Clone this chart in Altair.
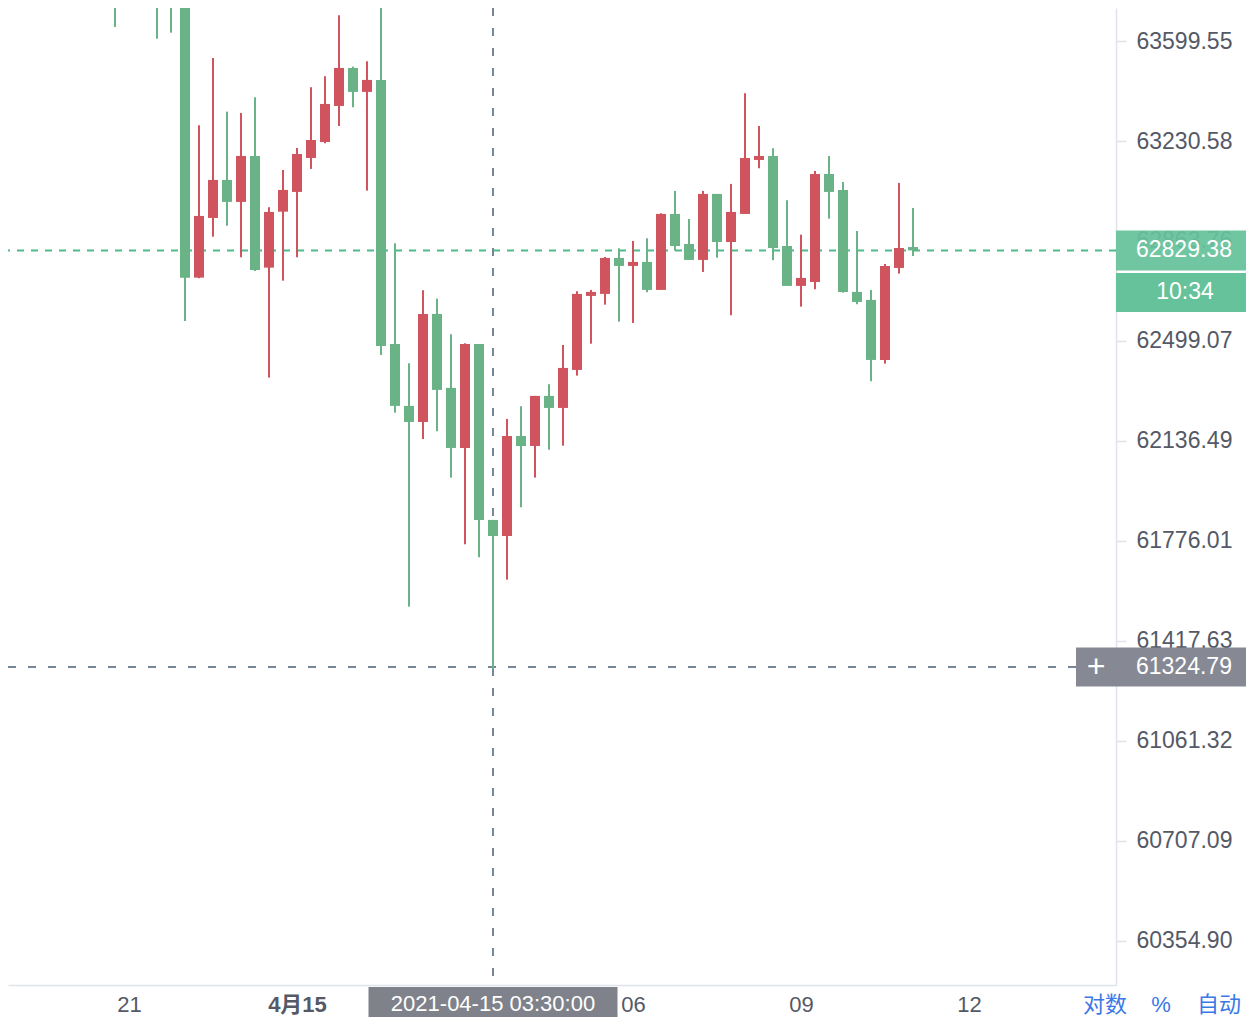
import altair as alt
import pandas as pd

# ---------------- data ----------------
times = [
    "2021-04-14 20:45", "2021-04-14 21:30", "2021-04-14 21:45", "2021-04-14 22:00",
    "2021-04-14 22:15", "2021-04-14 22:30", "2021-04-14 22:45", "2021-04-14 23:00",
    "2021-04-14 23:15", "2021-04-14 23:30", "2021-04-14 23:45",
    "2021-04-15 00:00", "2021-04-15 00:15", "2021-04-15 00:30", "2021-04-15 00:45",
    "2021-04-15 01:00", "2021-04-15 01:15", "2021-04-15 01:30", "2021-04-15 01:45",
    "2021-04-15 02:00", "2021-04-15 02:15", "2021-04-15 02:30", "2021-04-15 02:45",
    "2021-04-15 03:00", "2021-04-15 03:15", "2021-04-15 03:30", "2021-04-15 03:45",
    "2021-04-15 04:00", "2021-04-15 04:15", "2021-04-15 04:30", "2021-04-15 04:45",
    "2021-04-15 05:00", "2021-04-15 05:15", "2021-04-15 05:30", "2021-04-15 05:45",
    "2021-04-15 06:00", "2021-04-15 06:15", "2021-04-15 06:30", "2021-04-15 06:45",
    "2021-04-15 07:00", "2021-04-15 07:15", "2021-04-15 07:30", "2021-04-15 07:45",
    "2021-04-15 08:00", "2021-04-15 08:15", "2021-04-15 08:30", "2021-04-15 08:45",
    "2021-04-15 09:00", "2021-04-15 09:15", "2021-04-15 09:30", "2021-04-15 09:45",
    "2021-04-15 10:00", "2021-04-15 10:15", "2021-04-15 10:30", "2021-04-15 10:45",
    "2021-04-15 11:00",
]
opens = [63863.0, 63863.0, 63844.5, 63781.4, 62729.9, 62948.1, 63087.5, 63006.8, 63175.6, 62766.4, 62971.2,
         63043.5, 63168.2, 63226.9, 63359.7, 63499.9, 63411.4, 63455.7, 62488.2, 62263.4, 62205.4, 62597.5,
         62328.7, 62111.3, 62488.2, 61851.7, 61794.0, 62154.6, 62118.5, 62299.7, 62256.1, 62393.9, 62663.2,
         62670.5, 62801.8, 62772.6, 62787.2, 62685.1, 62962.8, 62852.8, 62794.5, 63036.2, 62860.1, 62962.8,
         63160.9, 63175.6, 62845.5, 62699.7, 62714.2, 63109.5, 63050.8, 62677.8, 62648.6, 62430.2, 62765.3,
         62841.9]
highs = [63900.2, 63900.2, 63881.6, 63825.9, 63288.5, 63536.8, 63338.7, 63333.9, 63391.8, 62987.4, 63124.2,
         63204.9, 63428.7, 63469.3, 63694.9, 63504.7, 63524.6, 63807.4, 62855.4, 62418.2, 62684.0, 62653.3,
         62523.5, 62490.7, 62488.2, 61851.7, 62216.3, 62262.3, 62299.7, 62342.1, 62484.6, 62680.3, 62685.1,
         62805.4, 62837.1, 62863.8, 62873.7, 62965.4, 63047.2, 62944.5, 63047.2, 63036.2, 63072.9, 63406.6,
         63285.9, 63203.8, 63013.1, 62886.9, 63120.5, 63175.6, 63080.2, 62900.4, 62685.1, 62779.9, 63076.5,
         62984.8]
lows = [63651.5, 63608.1, 63630.4, 62572.0, 62728.0, 62879.5, 62919.9, 62804.3, 62754.4, 62366.0, 62719.0,
        62804.3, 63127.9, 63222.1, 63285.9, 63354.9, 63048.3, 62448.3, 62239.1, 61540.6, 62143.7, 62171.7,
        62004.2, 61764.2, 61717.6, 61318.0, 61637.3, 61897.5, 62004.2, 62105.1, 62119.5, 62373.3, 62489.3,
        62631.5, 62569.5, 62564.7, 62676.7, 62685.1, 62828.4, 62794.5, 62750.7, 62802.9, 62592.8, 62962.8,
        63130.4, 62793.4, 62699.7, 62624.2, 62687.6, 62945.6, 62675.2, 62632.9, 62352.9, 62416.8, 62744.5,
        62809.0]
closes = [63788.8, 63770.3, 63781.4, 62729.9, 62955.5, 63087.5, 63006.8, 63175.6, 62758.0, 62970.1, 63050.8,
          63182.9, 63234.3, 63367.1, 63499.9, 63411.4, 63455.7, 62480.9, 62263.4, 62205.4, 62597.5, 62321.4,
          62111.3, 62488.2, 61851.7, 61794.0, 62154.6, 62118.5, 62299.7, 62256.1, 62401.2, 62670.5, 62677.8,
          62801.8, 62772.6, 62787.2, 62685.1, 62962.8, 62845.5, 62794.5, 63036.2, 62860.1, 62970.1, 63168.2,
          63175.6, 62838.2, 62699.7, 62728.8, 63109.5, 63043.5, 62677.8, 62641.3, 62430.2, 62772.6, 62838.2,
          62829.38]

ytick_values = [63599.55, 63230.58, 62863.76, 62499.07, 62136.49, 61776.01, 61417.63, 61061.32, 60707.09, 60354.90]
xtick_minutes = [-180, 0, 180, 360, 540, 720]
xtick_labels = ["21", "4月15", "03", "06", "09", "12"]

last_price = 62829.38
countdown = "10:34"
cross_label = "2021-04-15 03:30:00"
cross_price = 61324.79
buttons = ["对数", "%", "自动"]

# ---------------- frames ----------------
base_time = pd.Timestamp("2021-04-15 00:00")
df = pd.DataFrame({"t": times, "open": opens, "high": highs, "low": lows, "close": closes})
df["m"] = (pd.to_datetime(df["t"]) - base_time).dt.total_seconds() / 60.0

cross_m = (pd.Timestamp(cross_label) - base_time).total_seconds() / 60.0
cross_df = pd.DataFrame({"m": [cross_m], "label": [cross_label]})
last_df = pd.DataFrame({"p": [last_price], "label": [f"{last_price:.2f}"], "cd": [countdown]})
cp_df = pd.DataFrame({"p": [cross_price], "label": [f"{cross_price:.2f}"], "plus": ["+"]})

# ---------------- style ----------------
FONT = "Liberation Sans, Noto Sans CJK SC, sans-serif"
GREEN = "#69b386"
RED = "#cf545d"
GRID = "#e0e3eb"
TEXT = "#555966"
PLOT_W, PLOT_H = 1108, 977

xscale = alt.Scale(domain=[-309.64, 877.5], nice=False, zero=False, padding=0)
yscale = alt.Scale(type="log", domain=[60200.5, 63721.8], nice=False, zero=False, padding=0)

label_expr = "".join(f"datum.value == {v} ? '{t}' : " for v, t in zip(xtick_minutes, xtick_labels)) + "''"

xaxis = alt.Axis(
    orient="bottom", values=xtick_minutes, labelExpr=label_expr, title=None, grid=False,
    ticks=False, tickSize=0, domain=True, domainColor=GRID, domainWidth=1.5,
    labelFont=FONT, labelFontSize=22, labelColor=TEXT, labelPadding=9,
    labelFlush=False, labelOverlap=False, labelBound=False,
    labelFontWeight={"condition": {"test": "datum.value == 0", "value": "bold"}, "value": "normal"},
)
yaxis = alt.Axis(
    orient="right", values=ytick_values, format=".2f", title=None, grid=False,
    ticks=True, tickSize=10, tickColor=GRID, tickWidth=1.5,
    domain=True, domainColor=GRID, domainWidth=1.5,
    labelFont=FONT, labelFontSize=23, labelColor=TEXT, labelPadding=10,
    labelOverlap=False, labelFlush=False,
)


def X(f):
    return alt.X(f, scale=xscale, axis=xaxis)


def Y(f):
    return alt.Y(f, scale=yscale, axis=yaxis)


color = alt.condition("datum.close >= datum.open", alt.value(RED), alt.value(GREEN))

base = alt.Chart(df)
wicks = base.mark_rule(strokeWidth=2, clip=True).encode(x=X("m:Q"), y=Y("low:Q"), y2="high:Q", color=color)
bodies = base.mark_bar(size=10, clip=True).encode(x=X("m:Q"), y=Y("open:Q"), y2="close:Q", color=color)

price_line = alt.Chart(last_df).mark_rule(color="#4fb987", strokeWidth=2, strokeDash=[7, 7]).encode(y=Y("p:Q"))

cross_v = alt.Chart(cross_df).mark_rule(color="#758696", strokeWidth=2, strokeDash=[8, 12]).encode(x=X("m:Q"))
cross_h = alt.Chart(cp_df).mark_rule(color="#758696", strokeWidth=2, strokeDash=[8, 12]).encode(
    y=Y("p:Q"), x=alt.value(0), x2=alt.value(1068))

tag = alt.Chart(last_df).mark_bar(orient="horizontal", size=40, color="#66c29b", opacity=0.93).encode(
    y=Y("p:Q"), x=alt.value(PLOT_W), x2=alt.value(1238))
tag2 = alt.Chart(last_df).mark_bar(orient="horizontal", size=39, color="#66c29b", yOffset=42).encode(
    y=Y("p:Q"), x=alt.value(PLOT_W), x2=alt.value(1238))
tag_txt = alt.Chart(last_df).mark_text(color="white", fontSize=23, font=FONT, align="left", baseline="middle").encode(
    y=Y("p:Q"), x=alt.value(1128), text="label:N")
tag2_txt = alt.Chart(last_df).mark_text(color="white", fontSize=23, font=FONT, align="center", baseline="middle",
                                        dy=42).encode(y=Y("p:Q"), x=alt.value(1177), text="cd:N")

cp_box = alt.Chart(cp_df).mark_bar(orient="horizontal", size=39, color="#868993").encode(
    y=Y("p:Q"), x=alt.value(1068), x2=alt.value(1238))
cp_plus = alt.Chart(cp_df).mark_text(color="white", fontSize=32, font=FONT, align="center", baseline="middle",
                                     fontWeight=300).encode(y=Y("p:Q"), x=alt.value(1088), text="plus:N")
cp_txt = alt.Chart(cp_df).mark_text(color="white", fontSize=23, font=FONT, align="left", baseline="middle").encode(
    y=Y("p:Q"), x=alt.value(1128), text="label:N")

cx_box = alt.Chart(cross_df).mark_bar(orient="vertical", size=249, color="#7f828b").encode(
    x=X("m:Q"), y=alt.value(979), y2=alt.value(1009))
cx_txt = alt.Chart(cross_df).mark_text(color="white", fontSize=22, font=FONT, align="center", baseline="middle").encode(
    x=X("m:Q"), y=alt.value(996), text="label:N")

btn_df = pd.DataFrame({"b": buttons})
btn_layers = []
for i, px in enumerate([1097, 1153, 1211]):
    btn_layers.append(
        alt.Chart(btn_df).transform_filter(f"datum.b == '{buttons[i]}'").mark_text(
            color="#3a78e6", fontSize=22, font=FONT, align="center", baseline="middle"
        ).encode(x=alt.value(px), y=alt.value(997), text="b:N")
    )

chart = alt.layer(
    price_line, cross_v, cross_h, wicks, bodies,
    tag, tag2, tag_txt, tag2_txt, cp_box, cp_plus, cp_txt, cx_box, cx_txt, *btn_layers
).properties(
    width=PLOT_W, height=PLOT_H,
    autosize=alt.AutoSizeParams(type="none"),
    padding={"left": 0, "top": 0, "right": 130, "bottom": 32},
    background="white",
).configure_view(stroke=None)

chart.save("out.html", embed_options={"renderer": "svg", "actions": False})
